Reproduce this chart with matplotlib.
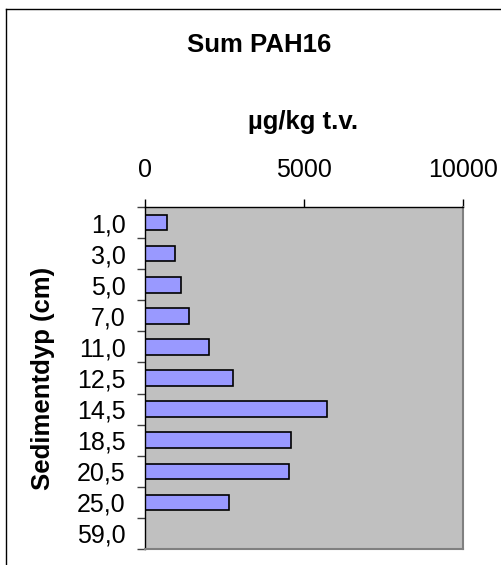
import numpy as np
import matplotlib
matplotlib.use("Agg")
import matplotlib.pyplot as plt
from matplotlib.lines import Line2D

plt.rcParams['font.family'] = ['Liberation Sans', 'DejaVu Sans']

categories = ["1,0", "3,0", "5,0", "7,0", "11,0", "12,5", "14,5", "18,5", "20,5", "25,0", "59,0"]
values = [690, 945, 1120, 1370, 2000, 2760, 5720, 4590, 4520, 2630, np.nan]
xticks = [0, 5000, 10000]
xtick_labels = ["0", "5000", "10000"]
title = "Sum PAH16"
xlabel = "µg/kg t.v."
ylabel = "Sedimentdyp (cm)"

W, H = 501, 565
fig = plt.figure(figsize=(W / 100, H / 100), dpi=100)
ax = fig.add_axes([145 / W, 1 - 549 / H, (463 - 145) / W, (549 - 207) / H])
ax.set_facecolor("#C0C0C0")

n = len(categories)
y = np.arange(n)
ax.barh(y, values, height=0.5, color="#9999FF", edgecolor="black", linewidth=1.2)

ax.set_xlim(0, 10000)
ax.set_ylim(n - 0.5, -0.5)

# x axis on top
ax.xaxis.tick_top()
ax.set_xticks(xticks)
ax.set_xticklabels(xtick_labels)
ax.tick_params(axis="x", which="major", direction="out", length=6, width=1,
               labelsize=18, pad=12, color="black")

# y ticks: boundaries (major, no labels), centers (minor, labels)
ax.set_yticks(np.arange(n + 1) - 0.5)
ax.set_yticklabels([])
ax.set_yticks(y, minor=True)
ax.set_yticklabels(categories, minor=True)
ax.tick_params(axis="y", which="major", direction="out", length=6, width=1, color="#404040")
ax.tick_params(axis="y", which="minor", length=0, labelsize=18, pad=14)

for s in ["left", "top"]:
    ax.spines[s].set_color("black")
    ax.spines[s].set_linewidth(1.0)
for s in ["right", "bottom"]:
    ax.spines[s].set_color("#808080")
    ax.spines[s].set_linewidth(1.5)

fig.text(259 / W, 1 - 52 / H, title, ha="center", va="baseline", fontsize=18.5, fontweight="bold")
fig.text(303.5 / W, 1 - 129 / H, xlabel, ha="center", va="baseline", fontsize=18.5, fontweight="bold")
fig.text(43 / W, 1 - 378 / H, ylabel, ha="center", va="center", rotation=90,
         fontsize=18.5, fontweight="bold")

# outer chart frame (partially visible)
fig.add_artist(Line2D([6 / W, 6 / W], [-0.1, 1 - 9 / H], transform=fig.transFigure,
                      color="black", linewidth=1.0))
fig.add_artist(Line2D([6 / W, 1.1], [1 - 9 / H, 1 - 9 / H], transform=fig.transFigure,
                      color="black", linewidth=1.0))

fig.savefig("out.png", dpi=100)
